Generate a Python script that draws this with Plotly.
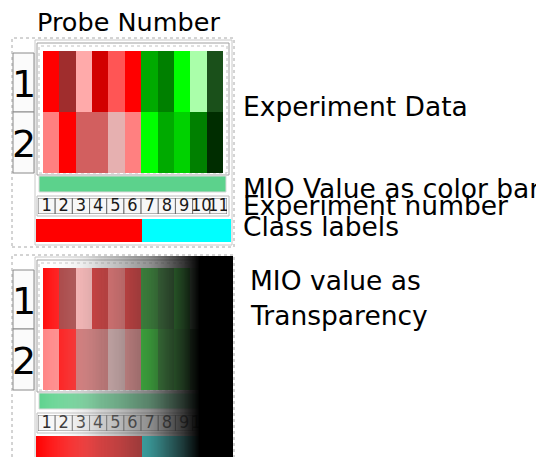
import numpy as np
import plotly.graph_objects as go

# ---------------- data ----------------
EXPERIMENTS = list(range(1, 12))
EXPERIMENT_LABELS = [str(e) for e in EXPERIMENTS]
PROBES = [1, 2]
PROBE_LABELS = ["1", "2"]
PROBE1_COLORS = ["#ff0000", "#a02d2d", "#ffaaaa", "#d20000", "#ff5555", "#ff0000",
                 "#00aa00", "#008000", "#00ff00", "#aaffaa", "#1a501a"]
PROBE2_COLORS = ["#ff8080", "#ff0000", "#d25f5f", "#d25f5f", "#e6b0b0", "#ff8080",
                 "#00ff00", "#00aa00", "#00d200", "#008000", "#002d00"]
CLASS_LABELS = ["A"] * 6 + ["B"] * 5
CLASS_COLORS = {"A": "#ff0000", "B": "#00ffff"}
MIO_COLOR = "#5cd28c"
TITLE = "Probe Number"
RIGHT_LABELS = ["Experiment Data", "MIO Value as color bar", "Experiment number", "Class labels"]
BOTTOM_LABELS = ["MIO value as", "Transparency"]

# ---------------- layout helpers ----------------
OFF = 8                      # page body margin of the browser
W, H = 544 - OFF, 457 - OFF  # figure size so that it fits the window
FONT = "DejaVu Sans"


def px(x):
    return (x - OFF) / W


def py(y):
    return 1 - (y - OFF) / H


fig = go.Figure()
axes = {}
shapes = []
annotations = []


def add_axes(n, x0, x1, ytop, ybot, xr, yr):
    k = "" if n == 1 else str(n)
    axes["xaxis" + k] = dict(domain=[max(0, px(x0)), min(1, px(x1))], range=xr, visible=False,
                             anchor="y" + k, fixedrange=True)
    axes["yaxis" + k] = dict(domain=[max(0, py(ybot)), min(1, py(ytop))], range=yr,
                             visible=False, anchor="x" + k, fixedrange=True)
    return ("x" if n == 1 else "x" + k), ("y" if n == 1 else "y" + k)


def rect(x0, y0, x1, y1, line=None, fill=None, dash=None, width=1):
    shapes.append(dict(type="rect", xref="paper", yref="paper", layer="below",
                       x0=px(x0), x1=px(x1), y0=py(y1), y1=py(y0),
                       line=dict(color=line or "rgba(0,0,0,0)", width=width if line else 0,
                                 dash=dash or "solid"),
                       fillcolor=fill or "rgba(0,0,0,0)"))


all_colors = PROBE1_COLORS + PROBE2_COLORS
n_col = len(all_colors)
cell_scale = [[i / (n_col - 1), c] for i, c in enumerate(all_colors)]
z_cells = [[i for i in range(len(EXPERIMENTS))],
           [len(EXPERIMENTS) + i for i in range(len(EXPERIMENTS))]]
class_names = sorted(CLASS_COLORS)
class_scale = [[i / (len(class_names) - 1), CLASS_COLORS[c]] for i, c in enumerate(class_names)]
z_class = [[class_names.index(c) for c in CLASS_LABELS]]

xr = [0.5, len(EXPERIMENTS) + 0.5]

for p, dy in enumerate([0, 217]):
    # frames
    rect(12, 38 + dy, 234, 247 + dy, line="#a8a8a8", dash="dot")
    rect(35, 40 + dy, 232, 245 + dy, line="#c8c8c8")
    rect(37, 43 + dy, 229, 175 + dy, line="#a0a0a0")
    rect(39, 46 + dy, 227, 173 + dy, line="#c0c0c0", dash="dot")
    # row labels
    for r, lab in enumerate(PROBE_LABELS):
        y0 = [53, 112][r] + dy
        y1 = [112, 173][r] + dy
        rect(13, y0, 34, y1, line="#8a8a8a", fill="#fbfbfb")
        annotations.append(dict(text=lab, x=px(23.5), y=py((y0 + y1) / 2 + 1),
                                xref="paper", yref="paper", showarrow=False,
                                xanchor="center", yanchor="middle",
                                font=dict(family=FONT, size=38, color="black")))
    # MIO colour bar
    rect(39, 176 + dy, 226, 192 + dy, line="#d8d8d8", fill=MIO_COLOR)
    # number frame
    rect(37, 196 + dy, 229, 216 + dy, line="#bdbdbd")

    # heatmap (experiment data)
    xa, ya = add_axes(1 + p, 43, 223, 51 + dy, 173 + dy, xr, [2.5, 0.5])
    fig.add_trace(go.Heatmap(x=EXPERIMENTS, y=PROBES, z=z_cells, colorscale=cell_scale,
                             zmin=0, zmax=n_col - 1, showscale=False, hoverinfo="skip",
                             xaxis=xa, yaxis=ya))

for p, dy in enumerate([0, 217]):
    # class label bar
    xa, ya = add_axes(3 + p, 36, 231, 219 + dy, 242 + dy, xr, [-0.5, 0.5])
    fig.add_trace(go.Heatmap(x=EXPERIMENTS, y=[0], z=z_class, colorscale=class_scale,
                             zmin=0, zmax=len(class_names) - 1, showscale=False,
                             hoverinfo="skip", xaxis=xa, yaxis=ya))

for p, dy in enumerate([0, 217]):
    # experiment number boxes
    xa, ya = add_axes(5 + p, 38, 227, 198 + dy, 214 + dy, xr, [0, 1])
    for e in EXPERIMENTS:
        shapes.append(dict(type="rect", xref=xa, yref=ya, layer="below",
                           x0=e - 0.5, x1=e + 0.5, y0=0, y1=1,
                           line=dict(color="#6e6e6e", width=1), fillcolor="#f7f7f7"))
    fig.add_trace(go.Scatter(x=EXPERIMENTS, y=[0.5] * len(EXPERIMENTS), mode="text",
                             text=EXPERIMENT_LABELS, textposition="middle center",
                             textfont=dict(family="DejaVu Sans Condensed, DejaVu Sans",
                                           size=18, color="#1a1a1a"),
                             hoverinfo="skip", showlegend=False, xaxis=xa, yaxis=ya))

# transparency overlay for bottom panel (style gradient)
OV_X0, OV_X1 = 35, 233
stops = [(35, 255, 0.0), (50, 255, 0.10), (84, 194, 0.33), (100, 150, 0.43),
         (117, 128, 0.50), (133, 104, 0.58), (150, 85, 0.65), (166, 58, 0.77),
         (182, 34, 0.88), (200, 0, 1.0), (233, 0, 1.0)]
ov_scale = [[(x - OV_X0) / (OV_X1 - OV_X0), f"rgba({g},{g},{g},{a})"] for x, g, a in stops]
n_ov = OV_X1 - OV_X0
xa, ya = add_axes(7, OV_X0, OV_X1, 256, 457, [-0.5, n_ov - 0.5], [-0.5, 0.5])
fig.add_trace(go.Heatmap(z=[np.linspace(0, 1, n_ov)], colorscale=ov_scale, zmin=0, zmax=1,
                         showscale=False, hoverinfo="skip", xaxis=xa, yaxis=ya))


# text labels
def label(text, x, y, size):
    annotations.append(dict(text=text, x=px(x), y=py(y), xref="paper", yref="paper",
                            showarrow=False, xanchor="left", yanchor="middle",
                            font=dict(family=FONT, size=size, color="black")))


label(TITLE, 35, 22, 25.5)
for t, y in zip(RIGHT_LABELS, [107, 188, 206, 226]):
    label(t, 241, y, 26.5)
for t, y in zip(BOTTOM_LABELS, [280, 315]):
    label(t, 248, y, 26.5)

fig.update_layout(width=W, height=H, margin=dict(l=0, r=0, t=0, b=0),
                  paper_bgcolor="white", plot_bgcolor="rgba(0,0,0,0)",
                  showlegend=False, shapes=shapes, annotations=annotations, **axes)
fig.write_html("out.html")
